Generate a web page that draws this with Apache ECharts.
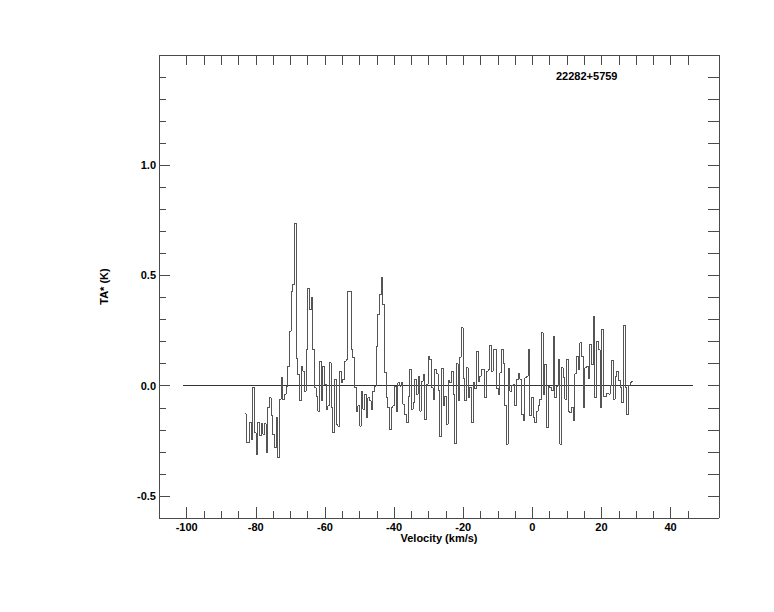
<!DOCTYPE html>
<html>
<head>
<meta charset="utf-8">
<script src="https://cdn.jsdelivr.net/npm/echarts@6/dist/echarts.min.js"></script>
<style>
html,body{margin:0;padding:0;background:#fff;}
#c{width:774px;height:612px;}
#c svg path{shape-rendering:crispEdges;}
</style>
</head>
<body>
<div id="c"></div>
<script>
// Spectrum: channel start velocity and width (km/s)
const vStart = -83.06;
const vStep = 0.483;
// Antenna temperature TA* (K) for each channel
const taValues = [
 -0.127,-0.259,-0.259,-0.167,-0.243,-0.009,-0.213,-0.311,-0.167,-0.228,
 -0.172,-0.220,-0.172,-0.303,-0.097,-0.054,-0.137,-0.223,-0.281,-0.145,
 -0.326,-0.062,0.036,-0.062,-0.039,-0.002,0.089,0.247,0.428,0.459,
 0.738,0.124,0.051,-0.069,0.089,0.066,-0.024,0.164,
 0.443,0.345,0.398,0.164,-0.009,-0.047,-0.115,0.112,-0.069,0.089,
 0.006,-0.107,-0.092,0.104,-0.100,-0.213,0.029,-0.175,-0.183,0.066,
 0.014,0.029,0.112,0.119,0.428,0.428,0.164,0.127,-0.009,-0.115,
 -0.092,-0.183,-0.024,-0.107,-0.039,-0.145,-0.054,-0.069,-0.107,
 -0.024,-0.002,0.179,0.323,0.413,0.489,0.368,0.059,-0.054,-0.100,
 -0.198,-0.100,-0.092,-0.002,-0.115,0.014,-0.002,0.014,-0.084,-0.130,
 -0.167,-0.047,0.074,-0.107,-0.077,0.029,-0.039,0.044,-0.115,0.021,
 0.051,-0.152,0.006,0.134,0.119,-0.009,-0.062,0.074,0.054,
 -0.021,-0.232,0.078,-0.092,-0.047,-0.175,0.024,0.014,0.066,-0.039,
 -0.262,0.100,-0.069,0.130,0.262,0.033,-0.069,0.081,-0.054,-0.009,
 -0.167,0.014,-0.012,0.157,0.021,0.044,0.074,0.074,-0.054,0.066,
 0.074,0.183,0.066,0.164,0.164,-0.012,-0.039,0.059,0.164,
 0.100,-0.092,-0.265,0.078,-0.024,0.003,0.006,-0.092,0.029,0.054,
 0.029,-0.130,-0.160,0.036,0.044,0.164,-0.137,-0.054,-0.145,-0.167,
 -0.115,-0.092,-0.062,0.240,-0.039,0.097,-0.190,-0.002,-0.009,-0.021,
 0.225,-0.054,-0.002,0.119,-0.265,0.081,0.036,-0.062,0.119,-0.115,
 -0.122,-0.097,-0.157,0.054,0.134,0.074,0.195,0.134,-0.097,0.081,
 0.089,0.033,0.187,0.097,0.315,-0.054,0.202,0.164,-0.100,0.255,
 -0.051,-0.047,-0.036,-0.039,0.003,0.115,-0.062,0.044,0.066,0.024,
 -0.009,-0.077,0.273,-0.006,-0.130,0.003,0.014,0.021
];
// Baseline extent
const baselineX = [-101, 46.6];
const baselineY = [0, 0];
// Axis ticks / labels
const xMajorTicks = [-100,-80,-60,-40,-20,0,20,40];
const xMinorTicks = [-100,-95,-90,-85,-80,-75,-70,-65,-60,-55,-50,-45,-40,-35,-30,-25,-20,-15,-10,-5,0,5,10,15,20,25,30,35,40,45];
const yMajorTicks = [-0.5,0.0,0.5,1.0];
const yMinorTicks = [-0.5,-0.4,-0.3,-0.2,-0.1,0.0,0.1,0.2,0.3,0.4,0.5,0.6,0.7,0.8,0.9,1.0,1.1,1.2,1.3,1.4];
const sourceName = '22282+5759';
const xName = 'Velocity (km/s)';
const yName = 'TA* (K)';

const spec = taValues.map((t, i) => [vStart + i * vStep, t]);
const base = baselineX.map((x, i) => [x, baselineY[i]]);

const axisColor = '#4a4a4a';
const font = 'Liberation Sans, Arial, sans-serif';
const X_MIN = -108, X_MAX = 54, Y_MIN = -0.6, Y_MAX = 1.5;

function xAx(opts) {
  return Object.assign({
    type: 'value', min: X_MIN, max: X_MAX, gridIndex: 0,
    splitLine: {show: false},
    axisLine: {show: false, onZero: false, lineStyle: {color: axisColor, width: 1}},
    axisLabel: {show: false},
    axisTick: {show: false}
  }, opts);
}
function yAx(opts) {
  return Object.assign({
    type: 'value', min: Y_MIN, max: Y_MAX, gridIndex: 0,
    splitLine: {show: false},
    axisLine: {show: false, onZero: false, lineStyle: {color: axisColor, width: 1}},
    axisLabel: {show: false},
    axisTick: {show: false}
  }, opts);
}

const chart = echarts.init(document.getElementById('c'), null, {renderer: 'svg'});
chart.setOption({
  animation: false,
  backgroundColor: '#ffffff',
  grid: {left: 159, top: 55, width: 560, height: 463, containLabel: false},
  title: {
    text: sourceName, left: 556, top: 70, padding: 0,
    textStyle: {fontFamily: font, fontSize: 11, fontWeight: 'bold', color: '#000'}
  },
  xAxis: [
    xAx({
      position: 'bottom',
      axisLine: {show: true, onZero: false, lineStyle: {color: axisColor, width: 1}},
      axisTick: {show: true, inside: true, length: 11, customValues: xMajorTicks, lineStyle: {color: axisColor}},
      axisLabel: {show: true, customValues: xMajorTicks, margin: 3,
        fontFamily: font, fontSize: 11, fontWeight: 'bold', color: '#000'},
      name: xName, nameLocation: 'middle', nameGap: 14, nameMoveOverlap: false,
      nameTextStyle: {fontFamily: font, fontSize: 11, fontWeight: 'bold', color: '#000'}
    }),
    xAx({
      position: 'bottom',
      axisTick: {show: true, inside: true, length: 7, customValues: xMinorTicks, lineStyle: {color: axisColor}}
    }),
    xAx({
      position: 'top',
      axisLine: {show: true, onZero: false, lineStyle: {color: axisColor, width: 1}},
      axisTick: {show: true, inside: true, length: 10, customValues: xMinorTicks, lineStyle: {color: axisColor}}
    })
  ],
  yAxis: [
    yAx({
      position: 'left',
      axisLine: {show: true, onZero: false, lineStyle: {color: axisColor, width: 1}},
      axisTick: {show: true, inside: true, length: 11, customValues: yMajorTicks, lineStyle: {color: axisColor}},
      axisLabel: {show: true, customValues: yMajorTicks, margin: 3,
        formatter: v => Number(v).toFixed(1),
        fontFamily: font, fontSize: 11, fontWeight: 'bold', color: '#000'},
      name: yName, nameLocation: 'middle', nameGap: 50, nameRotate: 90, nameMoveOverlap: false,
      nameTextStyle: {fontFamily: font, fontSize: 11, fontWeight: 'bold', color: '#000'}
    }),
    yAx({
      position: 'left',
      axisTick: {show: true, inside: true, length: 7, customValues: yMinorTicks, lineStyle: {color: axisColor}}
    }),
    yAx({
      position: 'right',
      axisLine: {show: true, onZero: false, lineStyle: {color: axisColor, width: 1}},
      axisTick: {show: true, inside: true, length: 11, customValues: yMinorTicks, lineStyle: {color: axisColor}}
    })
  ],
  series: [
    {
      type: 'line', xAxisIndex: 0, yAxisIndex: 0,
      data: base, showSymbol: false, silent: true,
      lineStyle: {color: '#333', width: 1}
    },
    {
      type: 'line', xAxisIndex: 0, yAxisIndex: 0,
      data: spec, step: 'middle', showSymbol: false, silent: true,
      lineStyle: {color: '#555', width: 1}
    }
  ]
});
</script>
</body>
</html>
